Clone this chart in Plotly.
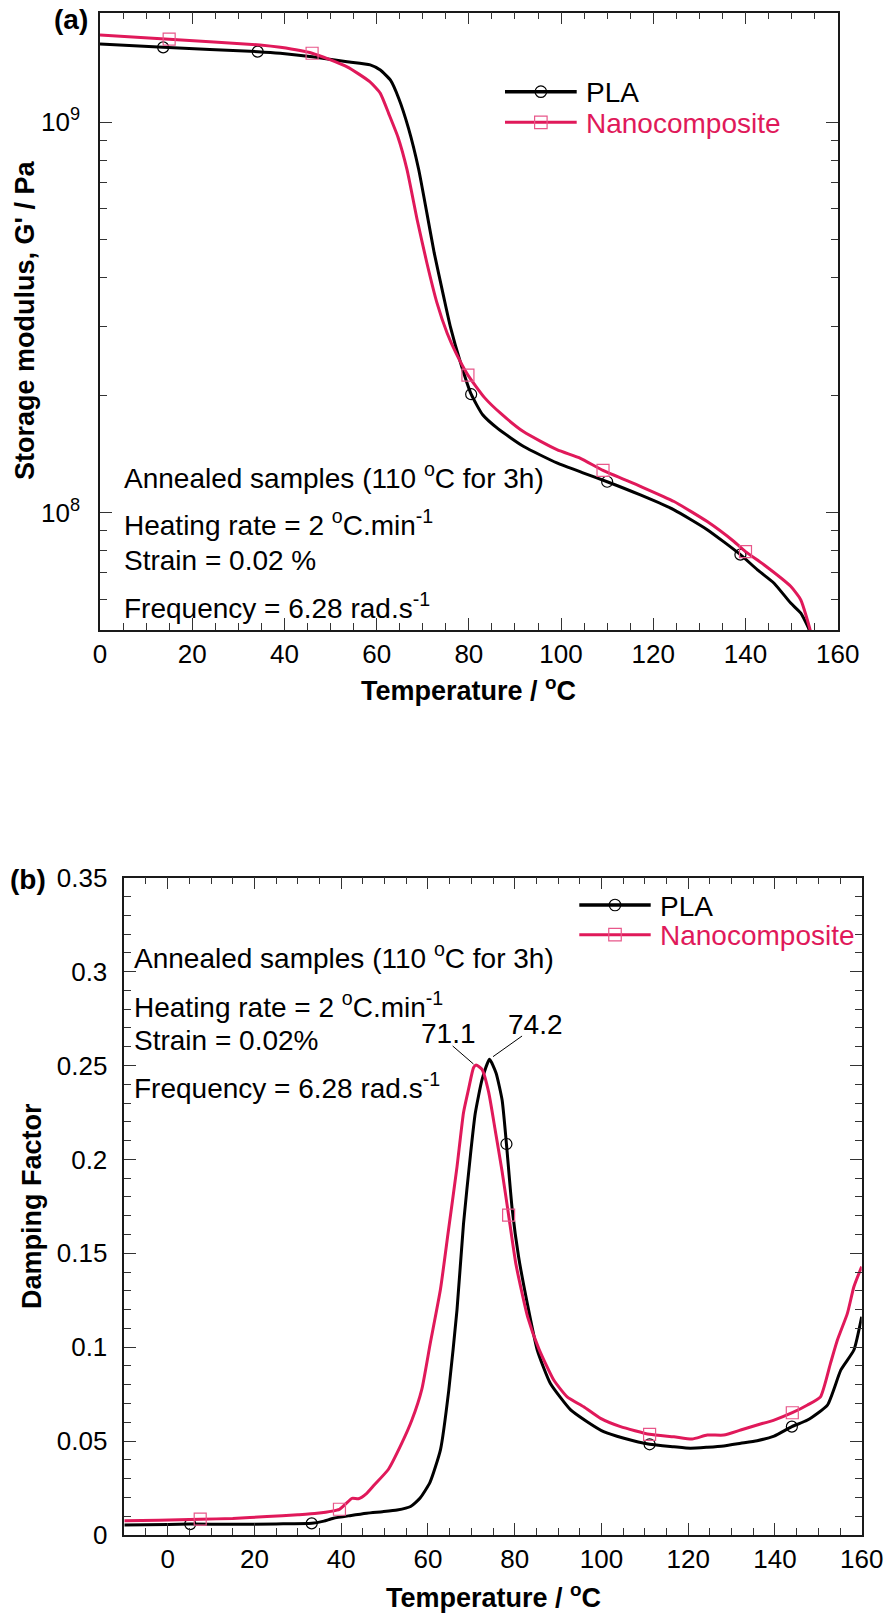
import numpy as np
import plotly.graph_objects as go

W, H = 889, 1613
FONT = "Liberation Sans, Arial, sans-serif"
BLACK = "#000000"
RED = "#E0195A"
RED_MARK = "#E8578A"

# ---- (a) storage modulus vs temperature ----
temp_a_pla = [0, 13.7, 34.2, 39.1, 46, 53.6, 58.6, 60.8, 63.0, 64.8, 66.9, 69.1, 70.9,
              72.5, 74.5, 76.0, 78.2, 80.5, 83.0, 86.3, 91.9, 99.1, 104.9, 110, 117.2,
              124.5, 131.7, 138.9, 142.6, 146.2, 149.8, 152, 153.8, 155]
g_pla = [1.587e9, 1.556e9, 1.517e9, 1.503e9, 1.472e9, 1.429e9, 1.403e9, 1.361e9, 1.282e9,
         1.151e9, 9.66e8, 7.59e8, 5.85e8, 4.62e8, 3.59e8, 2.99e8, 2.42e8, 2.01e8, 1.78e8,
         1.64e8, 1.476e8, 1.340e8, 1.262e8, 1.199e8, 1.109e8, 1.016e8, 9.04e7, 7.80e7,
         7.13e7, 6.59e7, 5.86e7, 5.52e7, 5.01e7, 4.4e7]
marks_a_pla = [13.7, 34.2, 80.5, 110, 138.9]

temp_a_nano = [0, 15, 34.7, 39.1, 46, 53.6, 58.5, 60.8, 62.6, 64.6, 66.6, 68.8, 70.9, 73.1,
               75.3, 77.3, 79.8, 83.4, 86.8, 91.9, 99.1, 104.2, 109.1, 117.2, 124.5, 131.7,
               137.5, 140, 144, 149.8, 152, 154, 155]
g_nano = [1.673e9, 1.633e9, 1.578e9, 1.556e9, 1.503e9, 1.387e9, 1.271e9, 1.186e9, 1.054e9,
          9.18e8, 7.55e8, 5.62e8, 4.36e8, 3.44e8, 2.88e8, 2.55e8, 2.25e8, 1.97e8, 1.80e8,
          1.61e8, 1.449e8, 1.377e8, 1.282e8, 1.167e8, 1.067e8, 9.48e7, 8.43e7, 7.94e7,
          7.35e7, 6.47e7, 5.97e7, 5.01e7, 4.3e7]
marks_a_nano = [15, 46, 79.8, 109.1, 140]

# ---- (b) damping factor (tan delta) vs temperature ----
temp_b_pla = [-10, -5, 5.2, 15, 25, 33.2, 36, 38.2, 42, 45.9, 49.5, 52.9, 56, 58.2, 60.5,
              62.9, 64.8, 66.7, 68.2, 69.8, 70.9, 72.5, 74.2, 75.7, 77.1, 78.1, 79.4, 80.9,
              82.9, 85.2, 88.2, 92.9, 96.7, 100.5, 105.2, 111.1, 116.7, 120.5, 124.4, 128.2,
              132.1, 135.9, 139.8, 143.9, 147.5, 152.1, 155.2, 158.2, 160]
tan_pla = [0.0053, 0.0054, 0.0058, 0.0057, 0.0059, 0.0062, 0.0074, 0.0089, 0.0103, 0.0116,
           0.0124, 0.0133, 0.0152, 0.0197, 0.0282, 0.0455, 0.0770, 0.1199, 0.1657, 0.2023,
           0.2244, 0.2427, 0.2533, 0.2460, 0.2316, 0.2082, 0.1740, 0.1482, 0.1234, 0.0985,
           0.0808, 0.0666, 0.0603, 0.0550, 0.0515, 0.0483, 0.0470, 0.0462, 0.0467, 0.0474,
           0.0488, 0.0502, 0.0527, 0.0577, 0.0612, 0.0692, 0.0879, 0.0985, 0.1162]
marks_b_pla = [5.2, 33.2, 78.1, 111.1, 143.9]

temp_b_nano = [-10, -2, 7.5, 15, 22.9, 30, 34.4, 39.6, 42.5, 44, 45.9, 47.5, 50.9, 54, 56.3,
               58.6, 60.5, 62.9, 64.6, 66.7, 68.2, 69.4, 70.5, 71.1, 72.5, 74, 75.5, 77.1,
               78.6, 80.3, 83.0, 85.6, 89, 92.1, 95.9, 99.8, 104.4, 111.1, 116.7, 120.9,
               124.4, 128.2, 132.1, 135.9, 139.8, 144, 147.5, 150.5, 152.8, 154.4, 156.7,
               158.2, 160]
tan_nano = [0.0076, 0.0078, 0.0084, 0.0088, 0.0098, 0.0108, 0.0116, 0.0137, 0.0195, 0.0193,
            0.0222, 0.0263, 0.0350, 0.0490, 0.0612, 0.0777, 0.1016, 0.1310, 0.1600, 0.1960,
            0.2249, 0.2378, 0.2488, 0.2503, 0.2478, 0.2358, 0.2157, 0.1936, 0.1703, 0.1440,
            0.1160, 0.0990, 0.0825, 0.0736, 0.0683, 0.0621, 0.0577, 0.0536, 0.0523, 0.0511,
            0.0532, 0.0532, 0.0559, 0.0586, 0.0612, 0.0651, 0.0692, 0.0736, 0.0914, 0.1038,
            0.1180, 0.1322, 0.1429]
marks_b_nano = [7.5, 39.6, 78.6, 111.1, 144]

peak_pla, peak_nano = 74.2, 71.1

# plot areas in pixels (left, top, right, bottom)
BOX_A = (100, 12.7, 837.7, 630)
BOX_B = (124.3, 877.7, 861.7, 1535)


def px(x):
    return x / W


def py(y):
    return 1 - y / H


fig = go.Figure()


def add_series(x, y, color, xa, ya, marks, symbol, msize, mcolor):
    fig.add_trace(go.Scatter(x=x, y=y, mode="lines",
                             line=dict(color=color, width=3, shape="spline", smoothing=0.5),
                             xaxis=xa, yaxis=ya, showlegend=False, hoverinfo="skip"))
    idx = [x.index(t) for t in marks]
    fig.add_trace(go.Scatter(x=[x[i] for i in idx], y=[y[i] for i in idx], mode="markers",
                             marker=dict(symbol=symbol, size=msize, color=mcolor,
                                         line=dict(width=1.2, color=mcolor)),
                             xaxis=xa, yaxis=ya, showlegend=False, hoverinfo="skip"))


add_series(temp_a_pla, g_pla, BLACK, "x", "y", marks_a_pla, "circle-open", 11, BLACK)
add_series(temp_a_nano, g_nano, RED, "x", "y", marks_a_nano, "square-open", 12, RED_MARK)
add_series(temp_b_pla, tan_pla, BLACK, "x2", "y2", marks_b_pla, "circle-open", 11, BLACK)
add_series(temp_b_nano, tan_nano, RED, "x2", "y2", marks_b_nano, "square-open", 12, RED_MARK)

tick_font = dict(family=FONT, size=26, color="black")
axis_common = dict(showline=True, linecolor="#1a1a1a", linewidth=1.5, mirror="ticks",
                   ticks="inside", ticklen=12, tickwidth=1.2, tickcolor="#333",
                   showgrid=False, zeroline=False, tickfont=tick_font, automargin=False)
minor_common = dict(ticks="inside", ticklen=7, tickwidth=1.2, tickcolor="#333", showgrid=False)

log_minor = [k * 10.0 ** e for e in (7, 8, 9) for k in range(2, 10)
             if 5e7 <= k * 10.0 ** e <= 1.9e9]

fig.update_layout(
    width=W, height=H, margin=dict(l=0, r=0, t=0, b=0, autoexpand=False),
    paper_bgcolor="white", plot_bgcolor="white",
    font=dict(family=FONT, color="black"),
    xaxis=dict(axis_common, domain=[px(BOX_A[0]), px(BOX_A[2])], range=[0, 160], anchor="y",
               tickvals=list(range(0, 161, 20)),
               minor=dict(minor_common, tickvals=list(range(0, 161, 5)))),
    yaxis=dict(axis_common, domain=[py(BOX_A[3]), py(BOX_A[1])], type="log", anchor="x",
               range=[np.log10(5e7), np.log10(1.909e9)], ticklabelstandoff=13,
               tickvals=[1e8, 1e9], ticktext=["10<sup>8</sup>", "10<sup>9</sup>"],
               minor=dict(minor_common, tickvals=log_minor)),
    xaxis2=dict(axis_common, domain=[px(BOX_B[0]), px(BOX_B[2])], range=[-10, 160], anchor="y2",
                tickvals=list(range(0, 161, 20)),
                minor=dict(minor_common, tickvals=list(range(-10, 161, 5)))),
    yaxis2=dict(axis_common, domain=[py(BOX_B[3]), py(BOX_B[1])], range=[0, 0.35], anchor="x2",
                ticklabelstandoff=10,
                tickvals=[0, 0.05, 0.1, 0.15, 0.2, 0.25, 0.3, 0.35],
                ticktext=["0", "0.05", "0.1", "0.15", "0.2", "0.25", "0.3", "0.35"],
                minor=dict(minor_common, tickvals=[round(0.01 * i, 2) for i in range(36)])),
)

annotations = []
shapes = []


def text(x, y, s, size=28, bold=False, color="black", xanchor="left", yanchor="middle",
         angle=0):
    annotations.append(dict(x=px(x), y=py(y), xref="paper", yref="paper", text=s,
                            showarrow=False, xanchor=xanchor, yanchor=yanchor, textangle=angle,
                            font=dict(family=FONT, size=size, color=color,
                                      weight="bold" if bold else "normal")))


deg = "<sup>o</sup>C"
# panel labels
text(71, 20, "(a)", bold=True, xanchor="center")
text(27.5, 879, "(b)", bold=True, xanchor="center")

# axis titles
text(469, 689, "Temperature / " + deg, size=27, bold=True, xanchor="center")
text(493, 1596, "Temperature / " + deg, size=27, bold=True, xanchor="center")
text(25, 321, "Storage modulus, G' / Pa", size=27, bold=True, xanchor="center", angle=-90)
text(32, 1206, "Damping Factor", size=27, bold=True, xanchor="center", angle=-90)

# test conditions
cond_lines = ["Annealed samples (110 " + deg + " for 3h)",
              "Heating rate = 2 " + deg + ".min<sup>-1</sup>"]
for s, yb in zip(cond_lines + ["Strain = 0.02 %", "Frequency = 6.28 rad.s<sup>-1</sup>"],
                 [488, 535, 570, 618]):
    text(122, yb + 8, s, yanchor="bottom")
for s, yb in zip(cond_lines + ["Strain = 0.02%", "Frequency = 6.28 rad.s<sup>-1</sup>"],
                 [968, 1017, 1050, 1098]):
    text(132, yb + 8, s, yanchor="bottom")

# peak labels with leader lines (data coordinates of panel b)
annotations.append(dict(x=64.7, y=0.2673, xref="x2", yref="y2", text=f"{peak_nano:.1f}",
                        showarrow=False, xanchor="center", yanchor="middle",
                        font=dict(family=FONT, size=28, color="black")))
annotations.append(dict(x=84.9, y=0.2718, xref="x2", yref="y2", text=f"{peak_pla:.1f}",
                        showarrow=False, xanchor="center", yanchor="middle",
                        font=dict(family=FONT, size=28, color="black")))
shapes.append(dict(type="line", xref="x2", yref="y2", x0=65.7, y0=0.2604, x1=70.5, y1=0.2508,
                   line=dict(color="black", width=1)))
shapes.append(dict(type="line", xref="x2", yref="y2", x0=81.7, y0=0.2657, x1=75.0, y1=0.2547,
                   line=dict(color="black", width=1)))


# legends drawn in pixel positions
def legend_entry(x0, x1, y, color, lw, mark, mcolor, msize, label, tcolor):
    shapes.append(dict(type="line", xref="paper", yref="paper", x0=px(x0), x1=px(x1),
                       y0=py(y), y1=py(y), line=dict(color=color, width=lw)))
    cx = (x0 + x1) / 2
    r = msize / 2
    shapes.append(dict(type=mark, xref="paper", yref="paper", x0=px(cx - r), x1=px(cx + r),
                       y0=py(y + r), y1=py(y - r), line=dict(color=mcolor, width=1.2),
                       fillcolor="rgba(0,0,0,0)"))
    text(x1 + 7, y + 1, label, color=tcolor)


legend_entry(505, 576.7, 91.7, BLACK, 3.5, "circle", BLACK, 11.5, "PLA", "black")
legend_entry(505, 576.7, 122.3, RED, 3, "rect", RED_MARK, 12.5, "Nanocomposite", RED)
legend_entry(579.3, 650.7, 905, BLACK, 3.5, "circle", BLACK, 11.5, "PLA", "black")
legend_entry(579.3, 650.7, 934.7, RED, 3, "rect", RED_MARK, 12.5, "Nanocomposite", RED)

fig.update_layout(annotations=annotations, shapes=shapes)
fig.write_html("out.html")
